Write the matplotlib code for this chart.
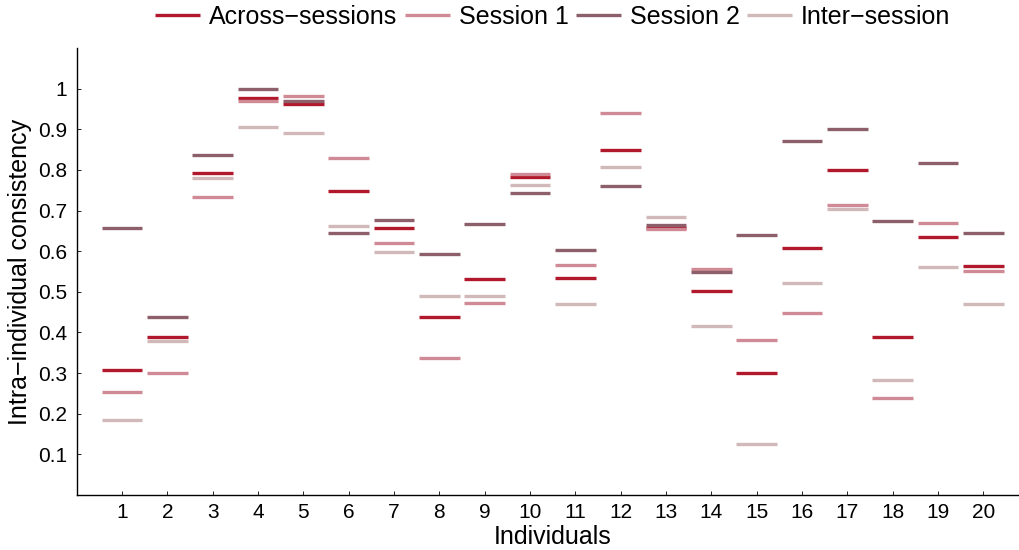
import matplotlib
matplotlib.use('Agg')
import matplotlib.pyplot as plt
import numpy as np

plt.rcParams['font.family'] = ['Liberation Sans', 'DejaVu Sans']

individuals = np.arange(1, 21)

across = [0.307, 0.388, 0.793, 0.976, 0.962, 0.747, 0.657, 0.437, 0.531, 0.782,
          0.535, 0.848, 0.658, 0.503, 0.300, 0.609, 0.800, 0.389, 0.636, 0.564]
session1 = [0.253, 0.300, 0.734, 0.970, 0.982, 0.829, 0.620, 0.338, 0.472, 0.791,
            0.565, 0.939, 0.654, 0.556, 0.381, 0.447, 0.713, 0.238, 0.669, 0.551]
session2 = [0.658, 0.438, 0.836, 1.000, 0.970, 0.644, 0.677, 0.594, 0.667, 0.743,
            0.603, 0.760, 0.665, 0.548, 0.639, 0.872, 0.901, 0.674, 0.817, 0.644]
inter = [0.184, 0.379, 0.779, 0.906, 0.892, 0.661, 0.599, 0.490, 0.490, 0.763,
         0.469, 0.807, 0.685, 0.415, 0.126, 0.521, 0.704, 0.282, 0.560, 0.470]

series = [
    ('Across\u2212sessions', across, '#b2182b'),
    ('Session 1', session1, '#d08a95'),
    ('Session 2', session2, '#8c5f6b'),
    ('Inter\u2212session', inter, '#d0b9b8'),
]

fig = plt.figure(figsize=(10.2, 5.5), dpi=100)
ax = fig.add_axes([76.7 / 1020, 0.1, 952 / 1020, 0.8127])

half = 0.45
for label, vals, color in series:
    ax.hlines(vals, individuals - half, individuals + half, colors=color,
              linewidth=2.4, label=label)

ax.set_xlim(0, 21)
ax.set_ylim(0, 1.1)
ax.set_xticks(individuals)
ax.set_xticklabels([str(i) for i in individuals])
ax.set_yticks(np.arange(1, 11) / 10)
ax.set_yticklabels(['0.1', '0.2', '0.3', '0.4', '0.5', '0.6', '0.7', '0.8', '0.9', '1'])
ax.tick_params(direction='in', length=3, width=0.6, labelsize=15, pad=7)
ax.tick_params(axis='x', pad=6)

for side in ['top', 'right']:
    ax.spines[side].set_visible(False)
for side in ['left', 'bottom']:
    ax.spines[side].set_linewidth(1.0)

ax.set_xlabel('Individuals', fontsize=18)
ax.xaxis.set_label_coords(0.5, -0.068)
ax.set_ylabel('Intra\u2212individual consistency', fontsize=18, labelpad=4)

ax.legend(loc='lower center', bbox_to_anchor=(0.5, 1.02), ncol=4,
          frameon=False, fontsize=18, handlelength=1.8, handletextpad=0.35,
          columnspacing=0.3, borderaxespad=0.0)

fig.savefig('out.png', dpi=100)
